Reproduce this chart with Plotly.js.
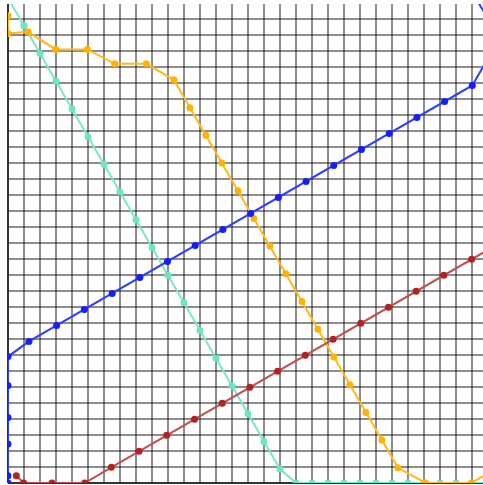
<!DOCTYPE html>
<html>
<head>
<meta charset="utf-8">
<script src="https://cdn.plot.ly/plotly-3.0.1.min.js"></script>
<style>html,body{margin:0;padding:0;background:#fff;}#chart{width:483px;height:485px;}</style>
</head>
<body>
<div id="chart"></div>
<script>
// Blue series
var blueX = [0, 0, 0, 0, 0, 0, 1.31, 3.04, 4.77, 6.51, 8.24, 9.97, 11.70, 13.43, 15.17, 16.90, 18.63, 20.36, 22.09, 23.83, 25.56, 27.29, 29.02, 30.02, 30.6, 29.3];
var blueY = [0, 0.46, 2.44, 4.1, 6.1, 7.9, 8.85, 9.85, 10.85, 11.85, 12.85, 13.85, 14.85, 15.85, 16.85, 17.85, 18.85, 19.85, 20.85, 21.85, 22.85, 23.85, 24.85, 26.58, 28.0, 30.2];
// Cyan series
var cyanX = [0, 1, 2, 3, 4, 5, 6, 7, 8, 9, 10, 11, 12, 13, 14, 15, 16, 17, 18, 19, 20, 21, 22, 23, 24, 25, 26, 27, 28, 29, 30];
var cyanY = [30.31, 28.58, 26.85, 25.11, 23.38, 21.65, 19.92, 18.19, 16.45, 14.72, 12.99, 11.26, 9.53, 7.79, 6.06, 4.33, 2.60, 0.87, 0, 0, 0, 0, 0, 0, 0, 0, 0, 0, 0, 0, 0];
// Orange series
var orangeX = [0, 0, 1.25, 2.98, 4.96, 6.67, 8.65, 10.37, 11.37, 12.37, 13.37, 14.37, 15.37, 16.37, 17.37, 18.37, 19.37, 20.37, 21.37, 22.37, 23.37, 24.37, 26.1, 28.96, 30.69];
var orangeY = [29.2, 28.1, 28.2, 27.1, 27.1, 26.2, 26.2, 25.2, 23.46, 21.73, 20.0, 18.27, 16.54, 14.81, 13.08, 11.34, 9.61, 7.87, 6.14, 4.41, 2.68, 0.95, 0, 0, 1.0];
// Red series
var redX = [0.52, 0.98, 2.75, 4.8, 6.46, 8.19, 9.92, 11.66, 13.39, 15.12, 16.85, 18.58, 20.32, 22.05, 23.78, 25.51, 27.24, 28.98, 30.71];
var redY = [0.46, 0, 0, 0, 0.98, 1.98, 2.98, 3.98, 4.98, 5.98, 6.98, 7.98, 8.98, 9.98, 10.98, 11.98, 12.98, 13.98, 14.98];

function tr(x, y, lineColor, markerColor) {
  return {x: x, y: y, type: 'scatter', mode: 'lines+markers',
    line: {color: lineColor, width: 2},
    marker: {color: markerColor, size: 7},
    showlegend: false, hoverinfo: 'none'};
}
var data = [
  tr(cyanX, cyanY, 'rgb(125,232,200)', 'rgb(110,228,195)'),
  tr(orangeX, orangeY, 'rgb(255,185,30)', 'rgb(255,178,0)'),
  tr(redX, redY, 'rgb(190,80,80)', 'rgb(178,34,34)'),
  tr(blueX, blueY, 'rgb(45,60,255)', 'rgb(20,30,255)')
];
var axisCommon = {dtick: 1, tick0: 0, showticklabels: false, ticks: '',
  showgrid: true, gridcolor: 'rgba(0,0,0,0.45)', gridwidth: 1.8,
  zeroline: true, zerolinecolor: '#333', zerolinewidth: 2, showline: false, fixedrange: true};
var layout = {
  width: 483, height: 485,
  margin: {l: 8, r: 0, t: 4, b: 2, pad: 0},
  paper_bgcolor: '#fff', plot_bgcolor: '#fff',
  xaxis: Object.assign({}, axisCommon, {range: [0, 29.69]}),
  yaxis: Object.assign({}, axisCommon, {range: [0, 29.94]}),
  showlegend: false
};
Plotly.newPlot('chart', data, layout, {displayModeBar: false, staticPlot: true});
</script>
</body>
</html>
